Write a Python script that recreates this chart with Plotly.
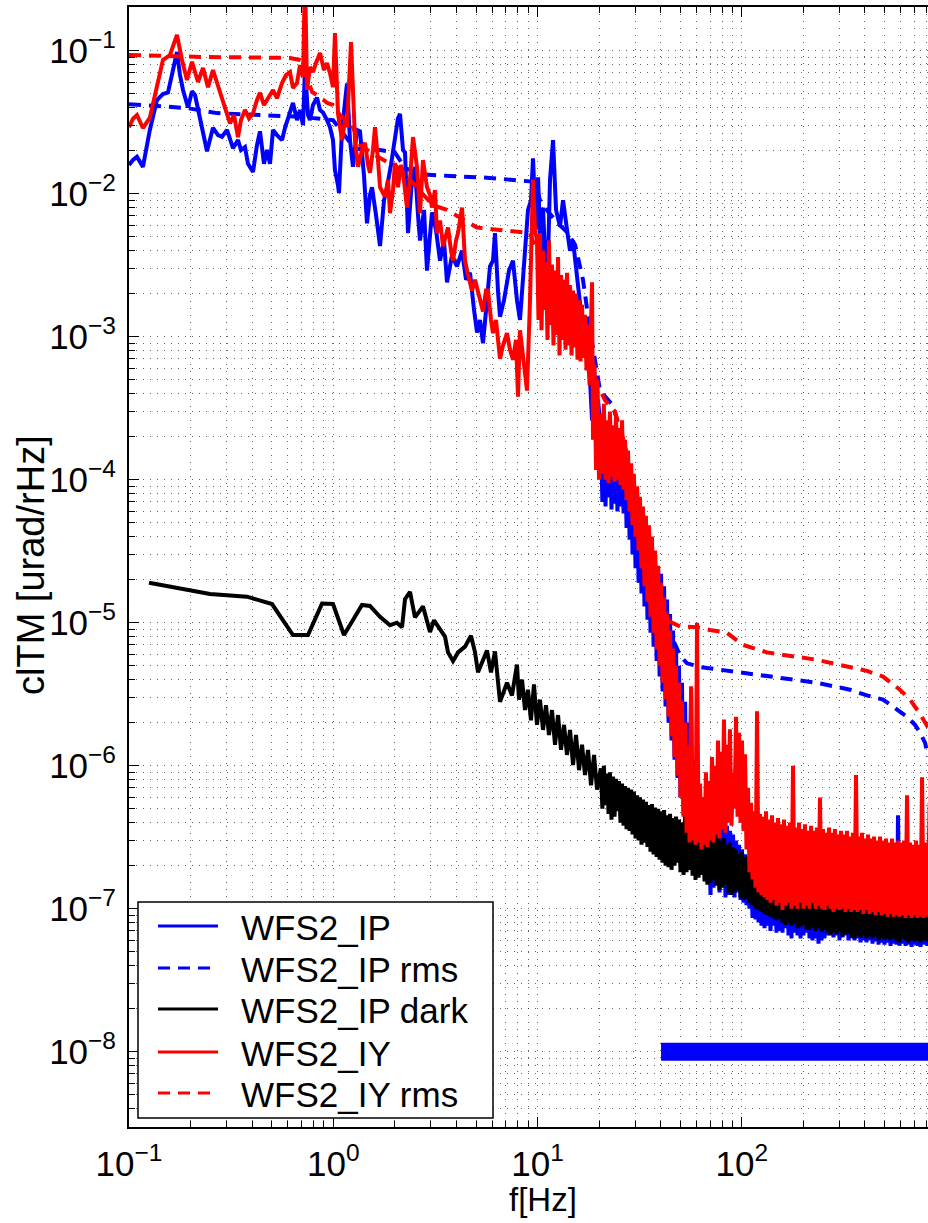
import plotly.graph_objects as go

# ---------------- data ----------------
# WFS2_IP (blue, solid), low-frequency part
ip_f_lf = [0.1, 0.1046, 0.1094, 0.117, 0.1265, 0.137, 0.1466, 0.1552, 0.1642, 0.1717, 0.1777, 0.1838, 0.1944, 0.2034,
           0.2104, 0.2252, 0.2409, 0.2577, 0.2727, 0.2852, 0.3018, 0.3229, 0.3416, 0.3533, 0.3696, 0.3824, 0.4046, 0.4231,
           0.4377, 0.4579, 0.4737, 0.49, 0.5068, 0.5302, 0.561, 0.5802, 0.6137, 0.6349, 0.6643, 0.6871, 0.7108, 0.727,
           0.7519, 0.7691, 0.7955, 0.8321, 0.8608, 0.8905, 0.9315, 0.9634, 0.9966, 1.019, 1.054, 1.066, 1.103, 1.128,
           1.167, 1.207, 1.248, 1.306, 1.351, 1.413, 1.462, 1.512, 1.547, 1.618, 1.693, 1.771, 1.832, 1.916, 2.004, 2.073,
           2.121, 2.194, 2.244, 2.321, 2.428, 2.511, 2.597, 2.657, 2.78, 2.875, 3.041, 3.181, 3.329, 3.482, 3.602, 3.811,
           4.032, 4.266, 4.463, 4.669, 4.884, 5.052, 5.226, 5.404, 5.653, 5.848, 6.048, 6.186, 6.398, 6.546, 6.848, 7.244,
           7.578, 7.927, 8.201, 8.578, 8.974, 9.284, 9.495, 9.822, 10.05, 10.39, 10.63, 11.12, 11.5, 11.9, 12.31, 12.87,
           13.32, 13.93, 14.41, 14.91, 15.6, 16.13, 16.68, 17.45, 18.05, 18.47, 18.89, 19.32, 19.76]
ip_v_lf = [0.0159, 0.0172, 0.0181, 0.0154, 0.0279, 0.0452, 0.0498, 0.051, 0.0733, 0.098, 0.0676, 0.0531, 0.0401, 0.052,
           0.049, 0.0302, 0.0198, 0.0289, 0.0257, 0.025, 0.0279, 0.0208, 0.0237, 0.0202, 0.0212, 0.0162, 0.0142, 0.0219,
           0.0273, 0.0162, 0.0202, 0.0162, 0.0279, 0.0257, 0.0237, 0.0289, 0.0385, 0.0432, 0.0327, 0.0385, 0.0302, 0.0767,
           0.0355, 0.0327, 0.0417, 0.047, 0.0385, 0.0369, 0.0327, 0.0291, 0.0237, 0.0146, 0.0115, 0.0101, 0.0279, 0.0385,
           0.0589, 0.0237, 0.0154, 0.0279, 0.0273, 0.0135, 0.0062, 0.0098, 0.0111, 0.0071, 0.0043, 0.009, 0.0111, 0.0159,
           0.0237, 0.0337, 0.0362, 0.0202, 0.0194, 0.0053, 0.0125, 0.0154, 0.0071, 0.0047, 0.0077, 0.0029, 0.0074, 0.0056,
           0.0034, 0.0047, 0.0024, 0.0037, 0.0031, 0.004, 0.0025, 0.0028, 0.00154, 0.00107, 0.00131, 0.0009, 0.0018,
           0.0031, 0.0034, 0.0053, 0.0021, 0.00138, 0.0018, 0.0029, 0.0034, 0.0018, 0.00131, 0.0034, 0.0077, 0.009, 0.0177,
           0.0056, 0.013, 0.0034, 0.008, 0.0018, 0.0125, 0.0237, 0.0077, 0.0059, 0.009, 0.0056, 0.004, 0.0047, 0.0025,
           0.0016, 0.00111, 0.00076, 0.0005, 0.00026, 0.00069, 0.00019, 0.00036]

# frequency samples of the dense high-frequency part (Hz): main grid and in-between samples
f_hf = [20.4, 21.1, 21.9, 22.6, 23.4, 24.2, 25.0, 25.9, 26.8, 27.7,
        28.7, 29.6, 30.7, 31.7, 32.8, 33.9, 35.1, 36.3, 37.6, 38.9,
        40.2, 41.6, 43.0, 44.5, 46.0, 47.6, 49.2, 50.9, 52.7, 54.5,
        56.4, 58.3, 60.3, 62.4, 64.5, 66.7, 69.0, 71.4, 73.9, 76.4,
        79.0, 81.7, 84.5, 87.4, 90.5, 93.6, 96.8, 100.1, 103.6, 107.1,
        110.8, 114.6, 118.6, 122.6, 126.9, 131.2, 135.7, 140.4, 145.2, 150.2,
        155.4, 160.7, 166.3, 172.0, 177.9, 184.0, 190.3, 196.9, 203.6, 210.6,
        217.9, 225.4, 233.1, 241.1, 249.5, 258.0, 266.9, 276.1, 285.6, 295.4,
        305.6, 316.1, 326.9, 338.2, 349.8, 361.9, 374.3, 387.2, 400.5, 414.3,
        428.6, 443.3, 458.6, 474.3, 490.7, 507.5, 525.0, 543.0, 561.7, 581.1,
        601.1, 621.8, 643.1, 665.3, 688.2, 711.9, 736.4, 761.7, 787.9, 830.0]
f_hf_mid = [20.75, 21.5, 22.25, 23.0, 23.8, 24.6, 25.45, 26.35, 27.25, 28.2,
            29.15, 30.15, 31.2, 32.25, 33.35, 34.5, 35.7, 36.95, 38.25, 39.55,
            40.9, 42.3, 43.75, 45.25, 46.8, 48.4, 50.05, 51.8, 53.6, 55.45,
            57.35, 59.3, 61.35, 63.45, 65.6, 67.85, 70.2, 72.65, 75.15, 77.7,
            80.35, 83.1, 85.95, 88.95, 92.05, 95.2, 98.45, 101.8, 105.3, 108.9,
            112.7, 116.6, 120.6, 124.7, 129.0, 133.4, 138.0, 142.8, 147.7, 152.8,
            158.0, 163.5, 169.1, 174.9, 180.9, 187.1, 193.6, 200.2, 207.1, 214.2,
            221.6, 229.2, 237.1, 245.3, 253.7, 262.4, 271.5, 280.8, 290.5, 300.5,
            310.8, 321.5, 332.5, 344.0, 355.8, 368.1, 380.7, 393.8, 407.3, 421.4,
            435.9, 450.9, 466.4, 482.4, 499.0, 516.2, 533.9, 552.3, 571.3, 591.0,
            611.4, 632.4, 654.1, 676.7, 700.0, 724.0, 748.9, 774.7, 808.7]

ip_v_hf = [2.2e-4, 7.0e-5, 2.4e-4, 6.5e-5, 2.0e-4, 7.5e-5, 2.3e-4, 6.2e-5, 2.1e-4, 6.8e-5,
           1.9e-4, 6.0e-5, 2.0e-4, 6.5e-5, 1.7e-4, 5.8e-5, 1.6e-4, 4.6e-5, 1.35e-4, 3.8e-5,
           1.1e-4, 3.0e-5, 9.5e-5, 2.4e-5, 8.0e-5, 1.9e-5, 6.8e-5, 1.6e-5, 6.0e-5, 1.3e-5,
           5.2e-5, 1.05e-5, 4.4e-5, 8.5e-6, 3.6e-5, 6.8e-6, 3.0e-5, 5.4e-6, 2.4e-5, 4.2e-6,
           2.2e-5, 3.3e-6, 1.8e-5, 2.6e-6, 1.45e-5, 2.0e-6, 1.15e-5, 1.5e-6, 8.8e-6, 1.1e-6,
           6.6e-6, 8.2e-7, 5.0e-6, 6.0e-7, 3.8e-6, 4.5e-7, 2.8e-6, 3.6e-7, 2.0e-6, 3.0e-7,
           3.5e-6, 2.6e-7, 1.1e-6, 2.4e-7, 8.0e-7, 2.2e-7, 4.5e-7, 2.0e-7, 4.5e-7, 1.87e-7,
           4.2e-7, 1.5e-7, 4.4e-7, 1.25e-7, 4.6e-7, 1.4e-7, 4.0e-7, 1.59e-7, 4.7e-7, 1.3e-7,
           4.2e-7, 1.47e-7, 4.3e-7, 1.2e-7, 3.8e-7, 1.25e-7, 3.5e-7, 1.35e-7, 3.3e-7, 1.2e-7,
           3.0e-7, 1.3e-7, 2.8e-7, 1.15e-7, 2.6e-7, 1.1e-7, 2.4e-7, 1.06e-7, 2.3e-7, 1.0e-7,
           2.2e-7, 8.6e-8, 2.1e-7, 8.4e-8, 2.0e-7, 8.0e-8, 1.9e-7, 7.6e-8, 1.87e-7, 7.3e-8,
           1.8e-7, 7.6e-8, 1.75e-7, 7.0e-8, 1.72e-7, 7.6e-8, 1.7e-7, 6.8e-8, 1.65e-7, 7.0e-8,
           1.6e-7, 6.8e-8, 1.59e-7, 7.3e-8, 1.55e-7, 6.5e-8, 1.6e-7, 6.2e-8, 2.2e-7, 6.8e-8,
           1.5e-7, 6.5e-8, 1.47e-7, 6.2e-8, 1.45e-7, 6.5e-8, 1.4e-7, 6.8e-8, 1.38e-7, 6.2e-8,
           1.35e-7, 6.0e-8, 1.32e-7, 6.2e-8, 1.3e-7, 5.7e-8, 1.28e-7, 6.0e-8, 1.25e-7, 6.2e-8,
           1.22e-7, 6.5e-8, 1.2e-7, 6.8e-8, 1.18e-7, 6.3e-8, 1.15e-7, 6.5e-8, 1.15e-7, 6.0e-8,
           1.12e-7, 6.3e-8, 1.1e-7, 6.5e-8, 1.08e-7, 6.0e-8, 1.06e-7, 6.2e-8, 1.06e-7, 6.0e-8,
           1.05e-7, 6.2e-8, 1.04e-7, 5.8e-8, 1.02e-7, 6.0e-8, 1.0e-7, 5.8e-8, 1.0e-7, 6.0e-8,
           9.8e-8, 5.7e-8, 9.8e-8, 5.9e-8, 9.6e-8, 5.6e-8, 9.5e-8, 5.8e-8, 9.4e-8, 5.6e-8,
           9.3e-8, 5.8e-8, 9.2e-8, 5.5e-8, 9.2e-8, 5.7e-8, 9.0e-8, 5.6e-8, 4.5e-7, 5.5e-8,
           9.0e-8, 5.7e-8, 9.0e-8, 5.5e-8, 8.8e-8, 5.6e-8, 8.8e-8, 5.4e-8, 8.7e-8, 5.6e-8,
           8.6e-8, 5.5e-8, 8.6e-8, 5.4e-8, 8.5e-8, 5.6e-8, 8.5e-8, 5.5e-8, 8.4e-8]

# WFS2_IP rms (blue, dashed)
ipr_f = [0.1, 0.1922, 0.2696, 0.5068, 0.6871, 0.9966, 1.141, 1.277, 1.693, 2.004, 2.244, 2.657, 3.726, 5.848, 9.712,
         10.27, 11.24, 12.87, 13.93, 15.25, 16.68, 18.05, 20.21, 23.39, 26.78, 29.98, 33.55, 36.31, 38.41, 42.03, 46.0,
         49.8, 53.86, 62.36, 109.6, 192.5, 232.8, 338.2, 409.1, 490.7, 548.5, 643.1, 703.7, 744.6, 787.6, 815.0]
ipr_v = [0.0423, 0.0397, 0.0366, 0.0355, 0.0345, 0.0327, 0.0257, 0.0206, 0.0202, 0.0194, 0.0151, 0.0137, 0.0133, 0.0129,
         0.0121, 0.009, 0.0075, 0.006, 0.0054, 0.0044, 0.0025, 0.00111, 0.00042, 0.00033, 0.000161, 7.2e-5, 3.2e-5,
         1.84e-5, 1.38e-5, 1.01e-5, 7.6e-6, 5.9e-6, 5.2e-6, 4.9e-6, 4.4e-6, 4.0e-6, 3.8e-6, 3.4e-6, 3.1e-6, 2.9e-6,
         2.6e-6, 2.2e-6, 1.93e-6, 1.7e-6, 1.45e-6, 1.16e-6]

# WFS2_IP dark (black)
dk_f_lf = [0.1253, 0.1988, 0.2491, 0.378, 0.5012, 0.6349, 0.7519, 0.8805, 0.9966, 1.128, 1.382, 1.512, 1.693, 1.895,
           2.05, 2.169, 2.244, 2.374, 2.511, 2.748, 2.974, 3.111, 3.329, 3.522, 3.643, 3.855, 4.078, 4.413, 4.721, 4.939,
           5.109, 5.404, 5.653, 5.914, 6.186, 6.546, 6.848, 7.085, 7.493, 7.927, 8.108, 8.39, 8.68, 8.97, 9.28, 9.6,
           9.93, 10.27, 10.63, 10.99, 11.37, 11.76, 12.17, 12.59, 13.02, 13.47, 13.93, 14.41, 14.91, 15.42, 15.95, 16.5,
           17.06, 17.65, 18.26, 18.89, 19.54]
dk_v_lf = [1.9e-5, 1.69e-5, 1.59e-5, 1.52e-5, 1.35e-5, 8.2e-6, 8.2e-6, 1.36e-5, 1.35e-5, 8.2e-6, 1.33e-5, 1.31e-5,
           1.1e-5, 9.6e-6, 1.0e-5, 9.3e-6, 1.46e-5, 1.64e-5, 1.09e-5, 1.3e-5, 8.6e-6, 1.04e-5, 8.9e-6, 8.0e-6, 6.2e-6,
           5.4e-6, 6.2e-6, 6.8e-6, 8.1e-6, 6.2e-6, 4.5e-6, 5.5e-6, 6.4e-6, 4.5e-6, 6.3e-6, 2.8e-6, 3.4e-6, 3.8e-6,
           3.1e-6, 5.1e-6, 2.9e-6, 4.0e-6, 2.45e-6, 3.4e-6, 2.08e-6, 3.7e-6, 1.93e-6, 2.9e-6, 1.78e-6, 2.65e-6, 1.64e-6,
           2.45e-6, 1.4e-6, 2.26e-6, 1.29e-6, 1.93e-6, 1.19e-6, 1.78e-6, 1.01e-6, 1.64e-6, 9.3e-7, 1.4e-6, 8.6e-7,
           1.29e-6, 7.3e-7, 1.19e-6, 6.8e-7]
dk_v_hf = [9.6e-7, 5.0e-7, 1.0e-6, 5.3e-7, 8.8e-7, 4.6e-7, 9.0e-7, 4.2e-7, 8.4e-7, 4.4e-7,
           8.1e-7, 4.8e-7, 7.8e-7, 4.0e-7, 7.5e-7, 3.8e-7, 7.2e-7, 3.6e-7, 7.0e-7, 3.5e-7,
           6.8e-7, 3.3e-7, 6.6e-7, 3.1e-7, 6.2e-7, 3.0e-7, 6.0e-7, 2.8e-7, 5.8e-7, 2.9e-7,
           5.6e-7, 2.7e-7, 5.3e-7, 2.5e-7, 5.4e-7, 2.4e-7, 5.1e-7, 2.3e-7, 5.0e-7, 2.2e-7,
           4.8e-7, 2.1e-7, 4.9e-7, 2.0e-7, 4.5e-7, 1.95e-7, 4.6e-7, 1.87e-7, 4.3e-7, 2.0e-7,
           4.4e-7, 2.1e-7, 4.2e-7, 1.8e-7, 4.0e-7, 1.72e-7, 4.5e-7, 1.8e-7, 4.1e-7, 1.87e-7,
           3.8e-7, 1.7e-7, 3.9e-7, 1.59e-7, 4.0e-7, 1.65e-7, 3.7e-7, 1.72e-7, 3.6e-7, 1.55e-7,
           3.5e-7, 1.47e-7, 3.4e-7, 1.52e-7, 3.4e-7, 1.59e-7, 3.3e-7, 1.45e-7, 3.2e-7, 1.35e-7,
           3.0e-7, 1.4e-7, 3.1e-7, 1.47e-7, 2.8e-7, 1.3e-7, 2.9e-7, 1.25e-7, 2.7e-7, 1.3e-7,
           2.6e-7, 1.35e-7, 2.4e-7, 1.2e-7, 2.5e-7, 1.15e-7, 2.3e-7, 1.18e-7, 2.35e-7, 1.1e-7,
           2.1e-7, 1.06e-7, 2.2e-7, 1.0e-7, 2.0e-7, 9.8e-8, 2.05e-7, 9.5e-8, 1.87e-7, 9.2e-8,
           1.9e-7, 9.0e-8, 1.75e-7, 8.8e-8, 1.8e-7, 8.6e-8, 1.7e-7, 8.3e-8, 1.72e-7, 8.5e-8,
           1.59e-7, 8.0e-8, 1.62e-7, 7.7e-8, 1.54e-7, 8.0e-8, 1.56e-7, 7.6e-8, 1.47e-7, 7.8e-8,
           1.5e-7, 7.3e-8, 1.42e-7, 7.5e-8, 1.45e-7, 7.7e-8, 1.4e-7, 7.2e-8, 1.42e-7, 7.1e-8,
           1.35e-7, 7.4e-8, 1.38e-7, 7.0e-8, 1.31e-7, 7.3e-8, 1.33e-7, 6.9e-8, 1.3e-7, 7.1e-8,
           1.28e-7, 6.8e-8, 1.25e-7, 6.5e-8, 1.27e-7, 6.8e-8, 1.23e-7, 6.6e-8, 1.24e-7, 6.9e-8,
           1.2e-7, 6.4e-8, 1.22e-7, 6.6e-8, 1.2e-7, 6.7e-8, 1.17e-7, 6.3e-8, 1.15e-7, 6.2e-8,
           1.16e-7, 6.5e-8, 1.15e-7, 6.3e-8, 1.13e-7, 6.5e-8, 1.11e-7, 6.2e-8, 1.12e-7, 6.4e-8,
           1.09e-7, 6.2e-8, 1.1e-7, 6.4e-8, 1.07e-7, 6.0e-8, 1.08e-7, 6.2e-8, 1.06e-7, 6.1e-8,
           1.07e-7, 6.2e-8, 1.04e-7, 6.0e-8, 1.05e-7, 6.2e-8, 1.04e-7, 5.9e-8, 1.03e-7, 5.8e-8,
           1.03e-7, 6.2e-8, 1.02e-7, 6.0e-8, 1.01e-7, 5.8e-8, 1.01e-7, 6.0e-8, 1.0e-7, 5.9e-8,
           1.0e-7, 6.0e-8, 9.9e-8, 5.8e-8, 9.8e-8, 6.0e-8, 9.8e-8, 5.9e-8, 9.7e-8]

# WFS2_IY (red, solid)
iy_f_lf = [0.1, 0.1046, 0.1094, 0.117, 0.1265, 0.137, 0.1466, 0.1587, 0.1717, 0.1817, 0.1922, 0.2034, 0.2177, 0.2303,
           0.2436, 0.2577, 0.2727, 0.2852, 0.2984, 0.3121, 0.3266, 0.3416, 0.3533, 0.3696, 0.3867, 0.4046, 0.4231,
           0.4377, 0.4579, 0.4737, 0.49, 0.5068, 0.5302, 0.561, 0.5868, 0.6137, 0.6349, 0.6643, 0.6871, 0.7108, 0.727,
           0.7435, 0.7691, 0.7955, 0.8228, 0.8608, 0.9004, 0.9315, 0.9634, 0.9966, 1.019, 1.054, 1.103, 1.141, 1.167,
           1.221, 1.277, 1.321, 1.382, 1.429, 1.479, 1.512, 1.564, 1.6, 1.655, 1.693, 1.791, 1.853, 1.895, 1.96, 2.004,
           2.073, 2.145, 2.194, 2.295, 2.374, 2.455, 2.568, 2.657, 2.748, 2.875, 2.974, 3.041, 3.146, 3.217, 3.329,
           3.443, 3.562, 3.643, 3.769, 3.855, 3.987, 4.078, 4.266, 4.413, 4.565, 4.775, 4.939, 5.109, 5.284, 5.404,
           5.59, 5.717, 5.914, 6.048, 6.256, 6.546, 6.771, 7.085, 7.327, 7.578, 7.838, 8.017, 8.201, 8.483, 8.874,
           9.18, 9.495, 9.712,
           9.933, 10.10, 10.27, 10.45, 10.63, 10.81, 10.99, 11.18, 11.37, 11.56, 11.76, 11.96, 12.17, 12.38, 12.59,
           12.80, 13.02, 13.24, 13.47, 13.70, 13.93, 14.17, 14.41, 14.66, 14.91, 15.16, 15.42, 15.68, 15.95, 16.22,
           16.50, 16.78, 17.06, 17.35, 17.65, 17.95, 18.26, 18.47, 18.67, 18.99, 19.32, 19.65, 19.98]
iy_v_lf = [0.0292, 0.0334, 0.0355, 0.0288, 0.034, 0.0575, 0.0861, 0.0933, 0.129, 0.0861, 0.0624, 0.0837, 0.0604,
           0.0757, 0.0556, 0.0733, 0.0575, 0.0452, 0.0372, 0.031, 0.0355, 0.0249, 0.0327, 0.0385, 0.0336, 0.0365,
           0.0452, 0.0507, 0.0417, 0.0452, 0.049, 0.0531, 0.0465, 0.0594, 0.0676, 0.0709, 0.0549, 0.0594, 0.0794,
           0.0654, 0.35, 0.0531, 0.0768, 0.0709, 0.082, 0.0965, 0.0733, 0.082, 0.0697, 0.0556, 0.133, 0.0365, 0.0237,
           0.0327, 0.0292, 0.115, 0.0237, 0.0154, 0.0202, 0.0227, 0.0159, 0.014, 0.0202, 0.0292, 0.0172, 0.0111,
           0.0095, 0.0125, 0.0073, 0.0106, 0.0164, 0.0111, 0.0159, 0.014, 0.008, 0.0125, 0.0249, 0.0154, 0.0073,
           0.0172, 0.0111, 0.0098, 0.008, 0.0106, 0.0053, 0.0065, 0.0043, 0.0051, 0.0058, 0.004, 0.0034, 0.0047,
           0.0053, 0.008, 0.0034, 0.0027, 0.0021, 0.0025, 0.0021, 0.00167, 0.0015, 0.0021, 0.0021, 0.00131, 0.00106,
           0.00131, 0.0007, 0.00087, 0.00106, 0.00081, 0.00069, 0.00095, 0.00038, 0.00111, 0.00074, 0.00042, 0.0018,
           0.0125, 0.0056,
           0.0047, 0.00131, 0.0053, 0.00111, 0.004, 0.00154, 0.0033, 0.00095, 0.0047, 0.00121, 0.0032, 0.00087,
           0.0029, 0.00103, 0.0036, 0.00074, 0.0027, 0.00095, 0.0025, 0.00081, 0.0028, 0.00087, 0.0023, 0.00074,
           0.0021, 0.00084, 0.002, 0.00069, 0.0018, 0.00067, 0.00167, 0.00071, 0.00142, 0.00058, 0.00121, 0.00046,
           0.00095, 0.0024, 0.00019, 0.00063, 0.000117, 0.0005, 0.0001]
iy_v_hf = [2.9e-4, 1.1e-4, 3.4e-4, 1.0e-4, 2.6e-4, 9.5e-5, 3.0e-4, 1.05e-4, 2.4e-4, 9.7e-5,
           2.8e-4, 1.0e-4, 2.3e-4, 9.2e-5, 2.6e-4, 8.5e-5, 1.9e-4, 7.2e-5, 1.6e-4, 6.0e-5,
           1.3e-4, 4.8e-5, 1.1e-4, 4.0e-5, 9.0e-5, 3.2e-5, 7.6e-5, 2.4e-5, 6.5e-5, 1.8e-5,
           5.6e-5, 1.4e-5, 4.8e-5, 1.1e-5, 4.0e-5, 8.5e-6, 3.2e-5, 6.5e-6, 2.5e-5, 5.0e-6,
           1.9e-5, 3.8e-6, 1.5e-5, 2.9e-6, 1.15e-5, 2.2e-6, 8.8e-6, 1.6e-6, 6.6e-6, 1.15e-6,
           5.0e-6, 8.5e-7, 3.8e-6, 6.0e-7, 2.8e-6, 4.4e-7, 2.0e-6, 3.4e-7, 1.4e-6, 2.9e-7,
           3.6e-6, 3.0e-7, 1.0e-6, 2.8e-7, 1.0e-5, 2.9e-7, 7.5e-7, 2.6e-7, 6.0e-7, 2.8e-7,
           9.0e-7, 2.7e-7, 7.8e-7, 3.0e-7, 1.15e-6, 2.9e-7, 1.0e-6, 3.3e-7, 1.5e-6, 3.1e-7,
           1.25e-6, 3.6e-7, 2.1e-6, 3.4e-7, 1.4e-6, 4.0e-7, 1.8e-6, 3.8e-7, 9.0e-7, 5.0e-7,
           2.2e-6, 4.4e-7, 1.7e-6, 4.0e-7, 1.5e-6, 3.5e-7, 1.2e-6, 2.6e-7, 7.0e-7, 1.8e-7,
           5.5e-7, 1.6e-7, 4.8e-7, 1.4e-7, 2.4e-6, 1.3e-7, 4.6e-7, 1.25e-7, 4.4e-7, 1.2e-7,
           4.8e-7, 1.15e-7, 4.2e-7, 1.1e-7, 4.5e-7, 1.15e-7, 4.0e-7, 1.05e-7, 4.3e-7, 1.1e-7,
           3.9e-7, 9.8e-8, 4.2e-7, 1.05e-7, 3.8e-7, 1.1e-7, 4.0e-7, 1.0e-7, 1.0e-6, 1.05e-7,
           3.7e-7, 1.0e-7, 4.0e-7, 1.1e-7, 3.6e-7, 1.0e-7, 3.9e-7, 1.05e-7, 3.5e-7, 1.0e-7,
           3.8e-7, 1.1e-7, 3.5e-7, 1.0e-7, 3.7e-7, 1.05e-7, 6.0e-7, 1.0e-7, 3.6e-7, 9.8e-8,
           3.4e-7, 1.05e-7, 3.7e-7, 1.0e-7, 3.4e-7, 9.5e-8, 3.6e-7, 1.0e-7, 3.3e-7, 9.8e-8,
           3.5e-7, 1.0e-7, 3.3e-7, 9.5e-8, 3.5e-7, 1.0e-7, 3.2e-7, 9.5e-8, 3.4e-7, 9.8e-8,
           8.6e-7, 9.5e-8, 3.2e-7, 9.8e-8, 3.4e-7, 9.2e-8, 3.1e-7, 9.8e-8, 3.3e-7, 9.2e-8,
           3.1e-7, 9.5e-8, 3.2e-7, 9.0e-8, 3.0e-7, 9.5e-8, 3.2e-7, 9.0e-8, 3.0e-7, 9.2e-8,
           3.1e-7, 8.8e-8, 2.9e-7, 9.2e-8, 3.1e-7, 8.8e-8, 2.9e-7, 9.0e-8, 3.0e-7, 8.8e-8,
           2.9e-7, 9.0e-8, 3.0e-7, 8.6e-8, 6.2e-7, 9.0e-8, 2.9e-7, 8.6e-8, 2.8e-7, 9.0e-8,
           3.0e-7, 8.6e-8, 2.8e-7, 8.8e-8, 8.3e-7, 8.6e-8, 2.9e-7, 8.8e-8, 5.5e-7]

# WFS2_IY rms (red, dashed)
iyr_f = [0.1, 0.2226, 0.6137, 0.6871, 0.72, 0.7519, 0.7873, 0.8608, 0.9315, 0.9966, 1.078, 1.235, 1.351, 1.6, 1.832,
         2.004, 2.374, 3.076, 3.602, 5.052, 6.327, 9.18, 10.27, 11.5, 12.87, 15.25, 17.06, 18.47, 19.1, 21.37, 23.92,
         26.78, 29.98, 33.55, 38.41, 42.99, 49.8, 60.21, 69.73, 84.45, 101.1, 132.6, 232.8, 338.2, 409.1, 490.7, 593.5,
         665.4, 744.6, 815.0]
iyr_v = [0.0933, 0.0905, 0.089, 0.0861, 0.083, 0.0624, 0.0514, 0.0475, 0.0432, 0.0417, 0.0355, 0.0302, 0.0219, 0.0186,
         0.0167, 0.0159, 0.0125, 0.0083, 0.0077, 0.0058, 0.0056, 0.0053, 0.0034, 0.0027, 0.0023, 0.0018, 0.00111,
         0.00069, 0.0005, 0.00036, 0.0003, 0.000175, 7.8e-5, 3.5e-5, 1.63e-5, 1.04e-5, 9.4e-6, 9.3e-6, 8.9e-6, 8.5e-6,
         7.0e-6, 6.2e-6, 5.5e-6, 4.9e-6, 4.6e-6, 4.2e-6, 3.4e-6, 2.9e-6, 2.3e-6, 1.85e-6]

# frequency band marker (thick blue bar at 1e-8)
band_f = [40.2, 2000.0]
band_v = [1e-8, 1e-8]

# tick labels
x_tickvals = [0.1, 1, 10, 100]
x_ticktext = ["10<sup>\u22121</sup>", "10<sup>0</sup>", "10<sup>1</sup>", "10<sup>2</sup>"]
y_tickvals = [1e-8, 1e-7, 1e-6, 1e-5, 1e-4, 1e-3, 1e-2, 1e-1]
y_ticktext = ["10<sup>\u2212%d</sup>" % k for k in [8, 7, 6, 5, 4, 3, 2, 1]]

legend_names = ["WFS2_IP", "WFS2_IP rms", "WFS2_IP dark", "WFS2_IY", "WFS2_IY rms"]

# ---------------- figure ----------------
FONT = "Liberation Sans, Arial, Helvetica, sans-serif"
W, H = 928, 1223
ML, MR, MT, MB = 129, 0, 7, 96
PW, PH = W - ML - MR, H - MT - MB
BLUE, RED, BLACK = "#0000ff", "#ff0000", "#000000"
DASH = "12px,8px"
LW = 4


def px_x(p):
    return (p - ML) / PW


def px_y(p):
    return (H - MB - p) / PH


# dense high-frequency axis: main grid interleaved with the in-between samples
f_dense = [f for pair in zip(f_hf, f_hf_mid) for f in pair] + [f_hf[-1]]

fig = go.Figure()


def add(x, y, color, name, dash=None, width=LW):
    fig.add_trace(go.Scatter(x=x, y=y, mode="lines", name=name, showlegend=False,
                             line=dict(color=color, width=width, dash=dash)))


add(ip_f_lf + f_dense, ip_v_lf + ip_v_hf, BLUE, legend_names[0])
add(ipr_f, ipr_v, BLUE, legend_names[1], dash=DASH)
add(dk_f_lf + f_dense, dk_v_lf + dk_v_hf, BLACK, legend_names[2])
add(iy_f_lf + f_dense, iy_v_lf + iy_v_hf, RED, legend_names[3])
add(iyr_f, iyr_v, RED, legend_names[4], dash=DASH)
add(band_f, band_v, BLUE, "band", width=18)

grid = dict(showgrid=True, gridcolor="rgba(0,0,0,0.6)", gridwidth=1, griddash="1px,6px")
minor_x = [m * d for d in [0.1, 1, 10, 100] for m in range(2, 10)]
minor_y = [m * d for d in [1e-9, 1e-8, 1e-7, 1e-6, 1e-5, 1e-4, 1e-3, 1e-2, 1e-1] for m in range(2, 10)]

common = dict(type="log", showline=True, linecolor="black", linewidth=2, ticks="inside", ticklen=10,
              tickwidth=1, tickcolor="black", zeroline=False, tickmode="array",
              tickfont=dict(family=FONT, size=35, color="black"), **grid)

fig.update_xaxes(range=[-1, 2.9109], tickvals=x_tickvals, ticktext=x_ticktext, mirror="ticks",
                 ticklabelstandoff=5,
                 minor=dict(tickmode="array", tickvals=minor_x, ticks="inside", ticklen=6, tickwidth=1,
                            tickcolor="black", **grid),
                 **common)
fig.update_yaxes(range=[-8.5266, -0.6944], tickvals=y_tickvals, ticktext=y_ticktext, mirror=False,
                 ticklabelstandoff=4,
                 minor=dict(tickmode="array", tickvals=minor_y, ticks="inside", ticklen=6, tickwidth=1,
                            tickcolor="black", **grid),
                 **common)

# manual legend (MATLAB style)
shapes = [dict(type="rect", xref="paper", yref="paper", x0=px_x(138), x1=px_x(493), y0=px_y(1118), y1=px_y(902),
               line=dict(color="black", width=1.5), fillcolor="white", layer="above")]
row_y = [926, 968, 1009, 1052, 1093]
styles = [(BLUE, None), (BLUE, DASH), (BLACK, None), (RED, None), (RED, DASH)]
annotations = []
for name, ry, (col, dsh) in zip(legend_names, row_y, styles):
    shapes.append(dict(type="line", xref="paper", yref="paper", x0=px_x(158), x1=px_x(218), y0=px_y(ry),
                       y1=px_y(ry), line=dict(color=col, width=3, dash=dsh), layer="above"))
    annotations.append(dict(text=name, xref="paper", yref="paper", x=px_x(239), y=px_y(ry + 1), xanchor="left",
                            yanchor="middle", showarrow=False, font=dict(family=FONT, size=35, color="black")))

annotations.append(dict(text="f[Hz]", xref="paper", yref="paper", x=px_x(543), y=px_y(1199), xanchor="center",
                        yanchor="middle", showarrow=False, font=dict(family=FONT, size=33, color="black")))
annotations.append(dict(text="clTM [urad/rHz]", xref="paper", yref="paper", x=px_x(31), y=px_y(565),
                        xanchor="center", yanchor="middle", textangle=-90, showarrow=False,
                        font=dict(family=FONT, size=38, color="black")))

fig.update_layout(width=W, height=H, margin=dict(l=ML, r=MR, t=MT, b=MB, autoexpand=False),
                  paper_bgcolor="white", plot_bgcolor="white", showlegend=False,
                  shapes=shapes, annotations=annotations, font=dict(family=FONT, color="black"))

fig.write_html("out.html")
